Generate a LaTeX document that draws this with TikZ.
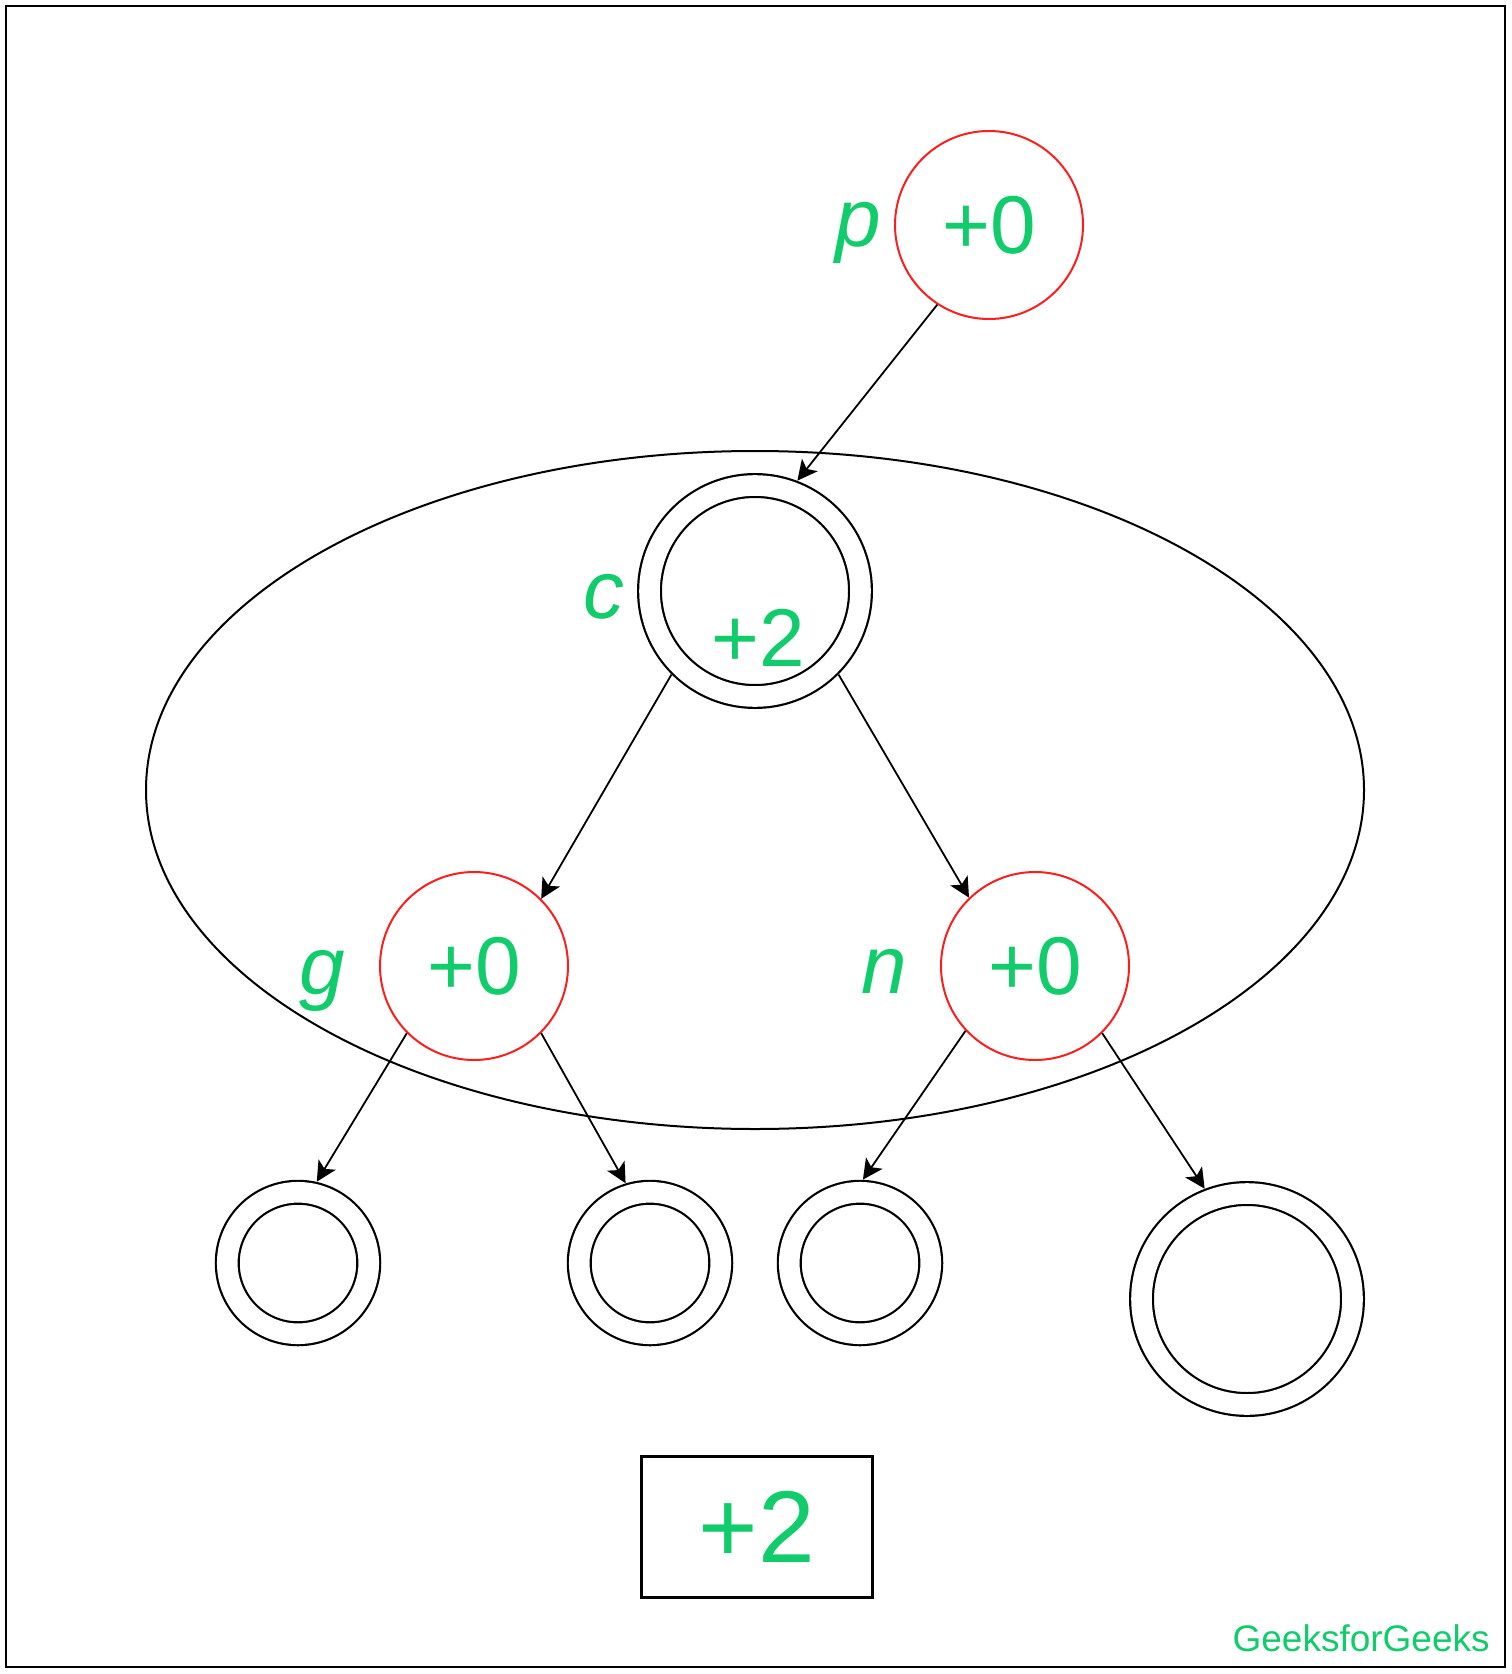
\documentclass[tikz,border=0pt]{standalone}
\usepackage{fontspec}
\setmainfont{Liberation Sans}
\usetikzlibrary{shapes,arrows.meta}
\definecolor{gfg}{RGB}{16,204,106}
\definecolor{ringred}{RGB}{250,30,30}

\begin{document}
\begin{tikzpicture}[x=0.5pt,y=-0.5pt,>={Stealth[length=10pt,width=10pt,inset=2.5pt]}]
\tikzstyle{vertex}=[circle, draw=ringred, line width=1pt, minimum size=94pt, inner sep=0pt, text=gfg, font=\fontsize{41}{48}\selectfont]
\tikzstyle{ring}=[circle, draw, line width=1.1pt, double, double distance=10.3pt, outer sep=6.35pt, inner sep=0pt]
\tikzstyle{num}=[text=gfg, font=\fontsize{41}{48}\selectfont, inner sep=0pt]
\tikzstyle{lbl}=[text=gfg, font=\fontsize{41}{48}\selectfont\itshape, inner sep=0pt, text depth=0pt]

\useasboundingbox (0,0) rectangle (1511,1674);
\draw[line width=1.1pt] (6,6) rectangle (1505,1667);

\node[draw, ellipse, line width=1pt, minimum width=609pt, minimum height=339pt] (blob) at (755,790) {};

\node[vertex] (p) at (989,225) {+0};
\node[ring, minimum size=105.5pt] (c) at (755,591) {};
\node[num] (cv) at (758,638) {+2};
\node[vertex] (g) at (474,966) {+0};
\node[vertex] (n) at (1035,966) {+0};
\node[ring, minimum size=70.75pt] (l1) at (298,1263) {};
\node[ring, minimum size=70.75pt] (l2) at (650,1263) {};
\node[ring, minimum size=70.75pt] (l3) at (860,1263) {};
\node[ring, minimum size=105.5pt] (l4) at (1247,1299) {};

\node[lbl] (pl) at (858,224) {p};
\node[lbl] (cl) at (604,596) {c};
\node[lbl] (gl) at (322,972) {g};
\node[lbl] (nl) at (884,971) {n};

\node[draw, line width=1.1pt, minimum width=115.5pt, minimum height=70.5pt, inner sep=0pt, text=gfg, font=\fontsize{51}{58}\selectfont] (sum) at (757,1527) {+2};
\node[text=gfg, font=\fontsize{18.5}{22}\selectfont, anchor=base east, inner sep=0pt] (mark) at (1490,1651) {GeeksforGeeks};

\foreach \i/\j in {p.237/c.69,c.225/g.45,c.315/n.134,g.225/l1.77,g.315/l2.107,n.223/l3.88,n.315/l4.111}{\draw[->, line width=0.9pt] (\i) -- (\j);}
\end{tikzpicture}
\end{document}
